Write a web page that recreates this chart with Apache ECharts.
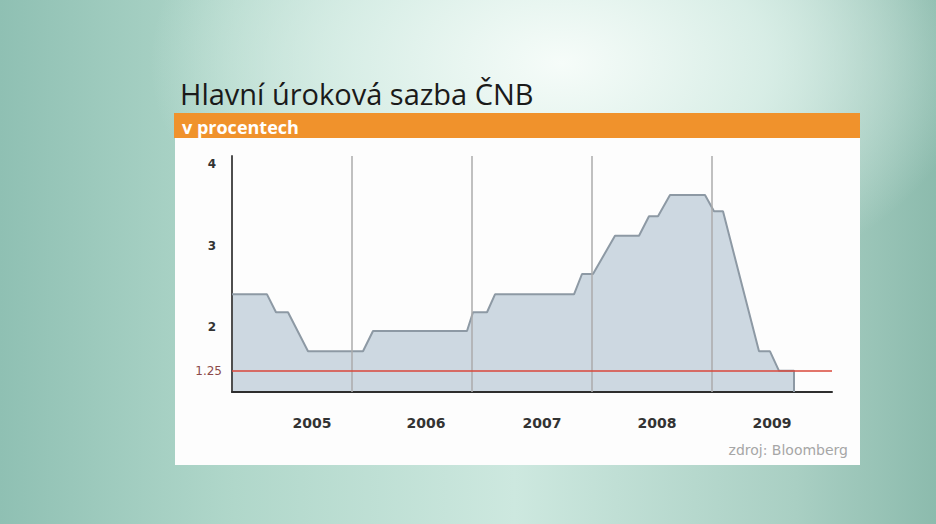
<!DOCTYPE html>
<html>
<head>
<meta charset="utf-8">
<script src="https://cdn.jsdelivr.net/npm/echarts@6/dist/echarts.min.js"></script>
<style>
html,body{margin:0;padding:0;width:936px;height:524px;overflow:hidden;}
body{
  background:
    radial-gradient(ellipse 55% 60% at 60% 12%, rgba(246,252,249,1) 0%, rgba(220,240,233,0.9) 40%, rgba(200,230,220,0) 80%),
    linear-gradient(90deg, #8fc0b3 0%, #b0d7ca 25%, #cde8df 55%, #a9cfc3 85%, #8cbbad 100%);
}
#chart{width:936px;height:524px;}
</style>
</head>
<body>
<div id="chart"></div>
<script>
// ---- data ----
// x = months from the left edge of the plot, y = rate in %
const monthIndex = [0, 3.5, 4.4, 5.6, 7.6, 13.1, 14.1, 23.5, 24.1, 25.5, 26.3, 34.2, 35.0, 36.1, 38.3, 40.7, 41.7, 42.6, 43.8, 47.3, 48.2, 49.1, 52.7, 53.8, 54.7, 56.2, 56.2];
const rateValues = [2.40, 2.40, 2.18, 2.18, 1.70, 1.70, 1.95, 1.95, 2.18, 2.18, 2.40, 2.40, 2.65, 2.65, 3.12, 3.12, 3.36, 3.36, 3.62, 3.62, 3.42, 3.42, 1.70, 1.70, 1.46, 1.46, 1.20];
const yearLabels = ['2005', '2006', '2007', '2008', '2009'];
const yearLabelPos = [8, 19.4, 31, 42.5, 54];
const yearBoundaries = [12, 24, 36, 48];
const yTickValues = [2, 3, 4];
const refLineValue = 1.46;
const refLineLabel = '1.25';

const titleText = 'Hlavní úroková sazba ČNB';
const subtitleText = 'v procentech';
const sourceText = 'zdroj: Bloomberg';

const seriesData = monthIndex.map((m, i) => [m, rateValues[i]]);

const chart = echarts.init(document.getElementById('chart'), null, {renderer: 'svg'});
chart.setOption({
  backgroundColor: 'transparent',
  animation: false,
  graphic: [
    {type: 'rect', z: -10, shape: {x: 175, y: 138, width: 685, height: 327}, style: {fill: '#fdfdfd'}},
    {type: 'rect', z: -9, shape: {x: 174, y: 113, width: 686, height: 25}, style: {fill: '#f0922c'}},
    {type: 'text', z: 5, x: 180, y: 93, style: {text: titleText, font: '29px "Open Sans"', fill: '#1a1a1a', verticalAlign: 'middle', align: 'left'}},
    {type: 'text', z: 5, x: 182, y: 127, style: {text: subtitleText, font: 'bold 18px "Open Sans"', fill: '#ffffff', verticalAlign: 'middle', align: 'left'}},
    {type: 'text', z: 5, x: 848, y: 450, style: {text: sourceText, font: '14px "DejaVu Sans"', fill: '#a6a6a6', verticalAlign: 'middle', align: 'right'}}
  ],
  grid: {left: 232, right: 104, top: 156, bottom: 132, containLabel: false},
  xAxis: {
    type: 'value', min: 0, max: 60, z: 3,
    axisLine: {show: true, onZero: false, lineStyle: {color: '#2e2e2e', width: 2}},
    axisTick: {show: false},
    splitLine: {show: false},
    axisLabel: {
      customValues: yearLabelPos,
      margin: 24,
      fontFamily: 'DejaVu Sans', fontWeight: 'bold', fontSize: 14, color: '#333',
      formatter: v => yearLabels[yearLabelPos.indexOf(v)] || ''
    }
  },
  yAxis: {
    type: 'value', min: 1.2, max: 4.1, z: 3,
    axisLine: {show: true, lineStyle: {color: '#4e4e4e', width: 2}},
    axisTick: {show: false},
    splitLine: {show: false},
    axisLabel: {
      customValues: yTickValues,
      margin: 16,
      fontFamily: 'DejaVu Sans', fontWeight: 'bold', fontSize: 12, color: '#333'
    }
  },
  series: [{
    type: 'line',
    data: seriesData,
    showSymbol: false,
    symbol: 'none',
    lineStyle: {color: '#8d99a4', width: 2},
    areaStyle: {color: '#cdd8e1', opacity: 1, origin: 'start'},
    markLine: {
      silent: true,
      symbol: 'none',
      animation: false,
      data: [
        ...yearBoundaries.map(v => ({xAxis: v, lineStyle: {color: '#ababab', width: 1.5, type: 'solid'}, label: {show: false}})),
        {yAxis: refLineValue, lineStyle: {color: '#d9473a', width: 1.5, type: 'solid'},
         label: {show: true, position: 'start', distance: 10, formatter: refLineLabel,
                 fontFamily: 'DejaVu Sans', fontSize: 12, color: '#8c4a4a'}}
      ]
    }
  }]
});
</script>
</body>
</html>
